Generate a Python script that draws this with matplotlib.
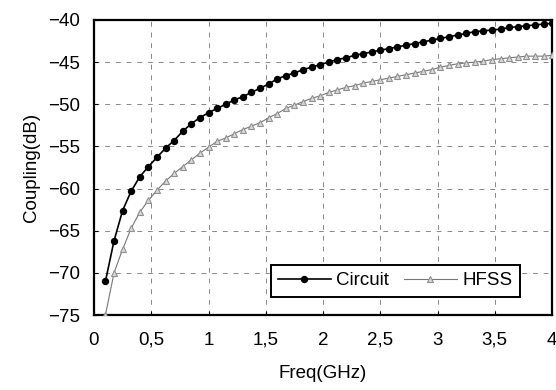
import matplotlib
matplotlib.use("Agg")
import matplotlib.pyplot as plt
from matplotlib.ticker import FuncFormatter

plt.rcParams["font.family"] = ["Liberation Sans", "DejaVu Sans"]

freq = [0.1, 0.175, 0.25, 0.325, 0.4, 0.475, 0.55, 0.625, 0.7, 0.775, 0.85, 0.925,
        1.0, 1.075, 1.15, 1.225, 1.3, 1.375, 1.45, 1.525, 1.6, 1.675, 1.75, 1.825,
        1.9, 1.975, 2.05, 2.125, 2.2, 2.275, 2.35, 2.425, 2.5, 2.575, 2.65, 2.725,
        2.8, 2.875, 2.95, 3.025, 3.1, 3.175, 3.25, 3.325, 3.4, 3.475, 3.55, 3.625,
        3.7, 3.775, 3.85, 3.925, 4.0]

circuit = [-71.0, -66.2, -62.6, -60.3, -58.6, -57.4, -56.3, -55.2, -54.3, -53.2,
           -52.3, -51.6, -51.0, -50.5, -50.0, -49.5, -49.1, -48.6, -48.1, -47.6,
           -47.0, -46.6, -46.3, -45.9, -45.6, -45.3, -45.0, -44.7, -44.5, -44.2,
           -44.0, -43.8, -43.6, -43.4, -43.2, -43.0, -42.8, -42.6, -42.4, -42.2,
           -42.0, -41.8, -41.6, -41.4, -41.3, -41.2, -41.1, -40.9, -40.8, -40.7,
           -40.6, -40.5, -40.4]

hfss = [-75.0, -70.0, -67.2, -64.7, -62.8, -61.4, -60.2, -59.1, -58.2, -57.4,
        -56.6, -55.8, -55.1, -54.4, -54.0, -53.5, -53.0, -52.6, -52.2, -51.6,
        -51.1, -50.5, -50.1, -49.7, -49.3, -49.0, -48.6, -48.3, -48.0, -47.8,
        -47.5, -47.3, -47.1, -46.9, -46.7, -46.5, -46.3, -46.1, -45.9, -45.6,
        -45.4, -45.2, -45.1, -45.0, -44.9, -44.7, -44.6, -44.5, -44.4, -44.3,
        -44.3, -44.3, -44.2]

xticks = [0, 0.5, 1, 1.5, 2, 2.5, 3, 3.5, 4]
yticks = [-75, -70, -65, -60, -55, -50, -45, -40]

fig = plt.figure(figsize=(5.56, 3.9), dpi=100)
ax = fig.add_axes([0.169, 0.192, 0.824, 0.757])

ax.plot(freq, hfss, color="#777777", linewidth=0.8, marker="^", markersize=4.5,
        markerfacecolor="#d8d8d8", markeredgecolor="#909090", markeredgewidth=0.8,
        label="HFSS", zorder=3)
ax.plot(freq, circuit, color="black", linewidth=1.2, marker="o", markersize=4.3,
        markerfacecolor="black", markeredgecolor="black", label="Circuit", zorder=4)

ax.set_xlim(0, 4)
ax.set_ylim(-75, -40)
ax.set_xticks(xticks)
ax.set_yticks(yticks)
ax.xaxis.set_major_formatter(FuncFormatter(lambda v, p: f"{v:g}".replace(".", ",")))
ax.yaxis.set_major_formatter(FuncFormatter(lambda v, p: f"\u2212{abs(v):g}"))
ax.tick_params(labelsize=13.5, length=3, direction="in")
ax.tick_params(axis="y", pad=10)
ax.tick_params(axis="x", pad=12)

ax.grid(True, color="#888888", linestyle=(0, (5, 6)), linewidth=0.7)
for s in ax.spines.values():
    s.set_linewidth(1.6)

ax.set_xlabel("Freq(GHz)", fontsize=13.5, labelpad=12)
ax.set_ylabel("Coupling(dB)", fontsize=13.5, labelpad=6)

handles, labels = ax.get_legend_handles_labels()
leg = ax.legend(handles[::-1], labels[::-1], ncol=2, loc="lower right",
                bbox_to_anchor=(0.95, 0.03), fontsize=13.5, frameon=True,
                fancybox=False, framealpha=1, edgecolor="black",
                handlelength=2.8, handletextpad=0.3, columnspacing=0.8,
                borderpad=0.4)
leg.get_frame().set_linewidth(1.4)

fig.savefig("out.png", dpi=100, facecolor="white")
